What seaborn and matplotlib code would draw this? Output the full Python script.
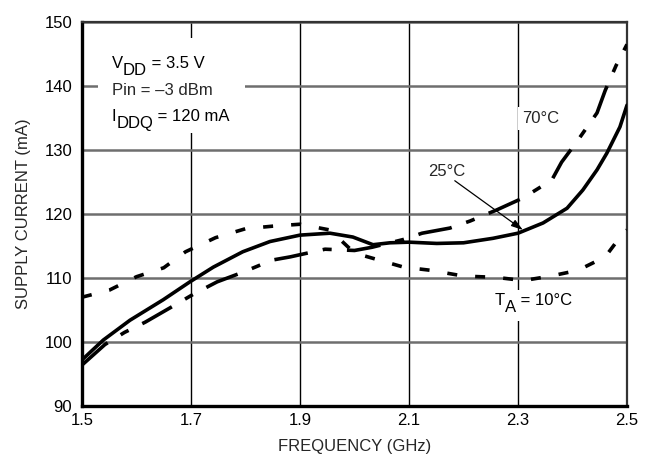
import numpy as np
import pandas as pd
import matplotlib
matplotlib.use("Agg")
import matplotlib.pyplot as plt
import seaborn as sns
from matplotlib.patches import Rectangle

# ---- data ----
freq_25 = [1.5, 1.539, 1.588, 1.649, 1.698, 1.741, 1.795, 1.845, 1.9, 1.955,
           1.997, 2.034, 2.065, 2.1, 2.151, 2.2, 2.254, 2.3, 2.346, 2.39,
           2.419, 2.445, 2.463, 2.487, 2.5]
curr_25 = [97.2, 100.3, 103.4, 106.6, 109.4, 111.7, 114.1, 115.7, 116.7, 117.0,
           116.4, 115.2, 115.5, 115.6, 115.4, 115.5, 116.2, 117.0, 118.6, 120.9,
           123.75, 126.9, 129.5, 133.6, 137.0]

freq_70 = [1.5, 1.542, 1.578, 1.616, 1.671, 1.705, 1.748, 1.795, 1.849, 1.882,
           1.946, 2.0, 2.032, 2.089, 2.124, 2.175, 2.212, 2.26, 2.309, 2.362,
           2.38, 2.408, 2.445, 2.46, 2.48, 2.5]
curr_70 = [96.4, 99.6, 101.5, 103.1, 105.8, 107.5, 109.4, 110.9, 112.8, 113.3,
           114.5, 114.3, 114.8, 116.0, 117.0, 117.8, 118.9, 120.6, 122.5, 125.3,
           128.1, 131.3, 135.8, 139.3, 143.2, 146.5]

freq_10 = [1.5, 1.55, 1.6, 1.65, 1.69, 1.745, 1.8, 1.85, 1.9, 1.955, 2.0,
           2.045, 2.09, 2.14, 2.2, 2.26, 2.31, 2.36, 2.41, 2.46, 2.49, 2.5]
curr_10 = [107.0, 108.1, 110.2, 111.6, 114.1, 116.3, 117.7, 118.1, 118.4, 117.5,
           113.9, 112.8, 111.7, 111.2, 110.3, 110.1, 109.6, 110.3, 111.2, 113.3,
           116.7, 117.5]

x_ticks = [1.5, 1.7, 1.9, 2.1, 2.3, 2.5]
x_tick_labels = ["1.5", "1.7", "1.9", "2.1", "2.3", "2.5"]
y_ticks = [90, 100, 110, 120, 130, 140, 150]
y_tick_labels = ["90", "100", "110", "120", "130", "140", "150"]

series_names = ["25°C", "70°C", "10°C"]

df = pd.concat([
    pd.DataFrame({"freq": freq_25, "curr": curr_25, "temp": series_names[0]}),
    pd.DataFrame({"freq": freq_70, "curr": curr_70, "temp": series_names[1]}),
    pd.DataFrame({"freq": freq_10, "curr": curr_10, "temp": series_names[2]}),
], ignore_index=True)

# ---- style ----
sns.set_style("white")
plt.rcParams["font.family"] = ["Liberation Sans", "DejaVu Sans"]
plt.rcParams["lines.scale_dashes"] = False
FS = 12

fig = plt.figure(figsize=(6.48, 4.68), dpi=100)
ax = fig.add_axes([82 / 648, 1 - 406 / 468, 545 / 648, 384 / 468])

dash_map = {"25°C": "", "70°C": (24.5, 11, 6.5, 11), "10°C": (7.2, 13)}
sns.lineplot(data=df, x="freq", y="curr", style="temp", dashes=dash_map,
             color="black", linewidth=2.6, estimator=None, sort=False,
             legend=False, ax=ax, zorder=3)

ax.set_xlim(1.5, 2.5)
ax.set_ylim(90, 150)
ax.set_xticks(x_ticks)
ax.set_xticklabels(x_tick_labels)
ax.set_yticks(y_ticks)
ax.set_yticklabels(y_tick_labels)
ax.tick_params(axis="both", length=0, labelsize=FS, colors="black")
ax.tick_params(axis="y", pad=7)
ax.tick_params(axis="x", pad=5)

ax.set_axisbelow(True)
ax.xaxis.grid(True, color="black", linewidth=1.0)
ax.yaxis.grid(True, color="#6e6e6e", linewidth=1.8)

for side in ["left", "bottom"]:
    ax.spines[side].set_linewidth(2.4)
    ax.spines[side].set_color("black")
for side in ["top", "right"]:
    ax.spines[side].set_linewidth(1.6)
    ax.spines[side].set_color("#333333")

ax.set_xlabel("FREQUENCY (GHz)", fontsize=FS, labelpad=8)
ax.set_ylabel("SUPPLY CURRENT (mA)", fontsize=FS, labelpad=10)

# ---- condition box (top-left) ----
ax.add_patch(Rectangle((0.029, 0.711), 0.27, 0.247, transform=ax.transAxes,
                       facecolor="white", edgecolor="none", zorder=1.5))


def sub_text(x, y, main, sub, rest, bg=False):
    kw = dict(fontsize=FS, color="black", zorder=5)
    t1 = ax.text(x, y, main, va="bottom", ha="left", **kw)
    t2 = ax.annotate(sub, xy=(1, 0), xycoords=t1, xytext=(0, -5),
                     textcoords="offset points", va="bottom", ha="left", **kw)
    t3 = ax.annotate(rest, xy=(1, 0), xycoords=t2, xytext=(0, 5),
                     textcoords="offset points", va="bottom", ha="left", **kw)
    return t1, t2, t3


sub_text(1.555, 142.3, "V", "DD", " = 3.5 V")
ax.text(1.555, 138.2, "Pin = –3 dBm", fontsize=FS, va="bottom", ha="left", zorder=5)
sub_text(1.555, 134.0, "I", "DDQ", " = 120 mA")

# ---- curve labels ----
ax.text(2.308, 134.9, "70°C", fontsize=FS, va="center", ha="left", zorder=5,
        bbox=dict(facecolor="white", edgecolor="none", pad=3))

ax.add_patch(Rectangle((2.288, 103.3), 0.12, 4.9, facecolor="white",
                       edgecolor="none", zorder=1.5))
sub_text(2.258, 105.3, "T", "A", " = 10°C")

ax.text(2.135, 126.6, "25°C", fontsize=FS, va="center", ha="left", zorder=5)
ax.annotate("", xy=(2.309, 117.5), xytext=(2.184, 125.2),
            arrowprops=dict(arrowstyle="-|>,head_length=0.7,head_width=0.22",
                            lw=0.9, color="black", shrinkA=0, shrinkB=0),
            zorder=5)

fig.savefig("out.png", dpi=100)
